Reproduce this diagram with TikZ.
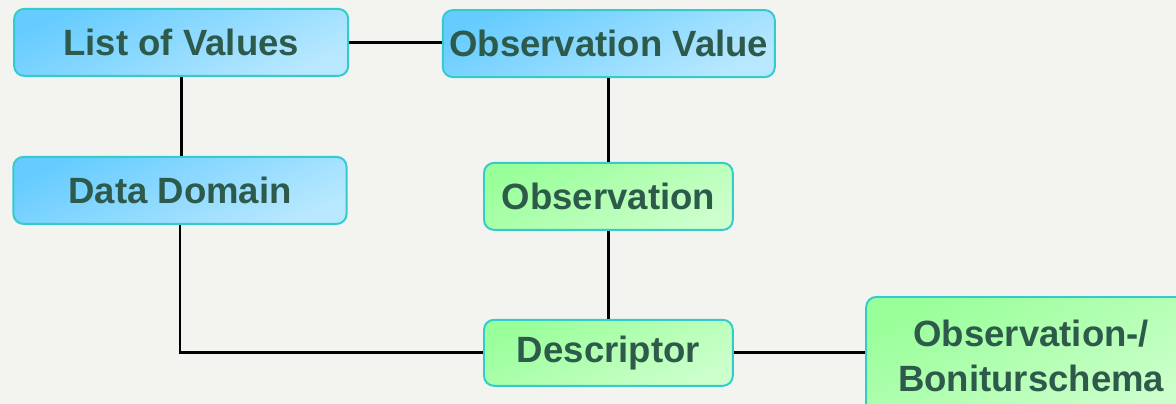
\documentclass[tikz,border=0pt]{standalone}
\usepackage{fontspec}
\setmainfont{Liberation Sans}
\definecolor{bgcol}{HTML}{F3F3EF}
\definecolor{edgecol}{HTML}{33CCCC}
\definecolor{txtcol}{HTML}{2D5A4B}
\definecolor{blueA}{HTML}{66CCFF}
\definecolor{blueB}{HTML}{B8E8FF}
\definecolor{greenA}{HTML}{99FF99}
\definecolor{greenB}{HTML}{CCFFCC}
\tikzset{
  box/.style={draw=edgecol, line width=1.4pt, rounded corners=0.25cm,
    inner sep=0pt, align=center, text=txtcol,
    font=\fontsize{26}{32}\selectfont\bfseries},
  bluebox/.style={box, top color=blueA, bottom color=blueB, shading angle=25},
  greenbox/.style={box, top color=greenA, bottom color=greenB, shading angle=25},
  link/.style={line width=2.1pt, black}
}
\begin{document}
\begin{tikzpicture}
    \useasboundingbox (0, 0) rectangle (29.4, 10.1);
    \clip (0, 0) rectangle (29.4, 10.1);
    \fill[bgcol] (0, 0) rectangle (29.4, 10.1);
    \node[bluebox, minimum width=8.35cm, minimum height=1.675cm] (lov) at (4.53, 9.04) {List of Values};
    \node[bluebox, minimum width=8.3cm, minimum height=1.675cm] (obsval) at (15.22, 9.01) {Observation Value};
    \node[bluebox, minimum width=8.33cm, minimum height=1.675cm] (domain) at (4.5, 5.34) {Data Domain};
    \node[greenbox, minimum width=6.22cm, minimum height=1.675cm] (obs) at (15.21, 5.19) {Observation};
    \node[greenbox, minimum width=6.22cm, minimum height=1.65cm] (desc) at (15.21, 1.28) {Descriptor};
    \node[greenbox, minimum width=8.25cm, minimum height=2.93cm] (schema) at (25.78, 1.21) {Observation-/\\Boniturschema};
    \draw[link] (lov.east) -- (lov.east -| obsval.west);
    \draw[link] (lov.south) -- (lov.south |- domain.north);
    \draw[link] (obsval.south) -- (obsval.south |- obs.north);
    \draw[link] (obs.south) -- (obs.south |- desc.north);
    \draw[link] (domain.south) |- (desc.west);
    \draw[link] (desc.east) -- (desc.east -| schema.west);
\end{tikzpicture}
\end{document}
